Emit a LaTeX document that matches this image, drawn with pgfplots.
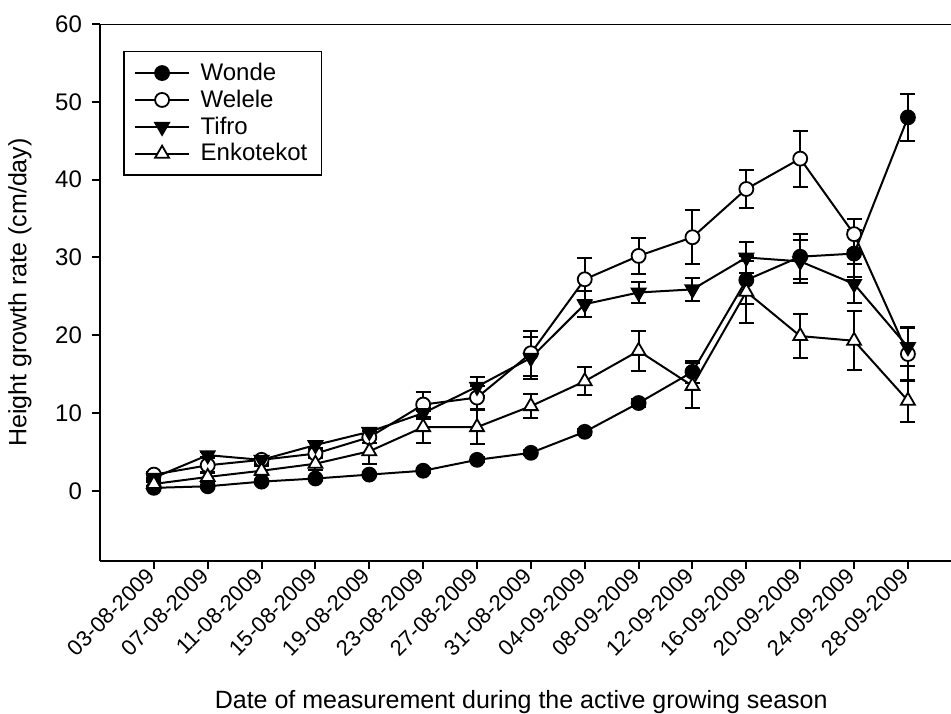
\documentclass[border=0pt]{standalone}
\usepackage{fontspec}
\setmainfont{Liberation Sans}
\usepackage{pgfplots}
\usepackage{pgfplotstable}
\pgfplotsset{compat=1.18}

% x = measurement index, y = growth rate, e = error
\pgfplotstableread{
x y e
0 0.4 0.2
1 0.6 0.2
2 1.2 0.2
3 1.6 0.2
4 2.1 0.2
5 2.6 0.3
6 4.0 0.3
7 4.9 0.3
8 7.6 0.4
9 11.3 0.5
10 15.3 1.4
11 27.1 3.1
12 30.1 2.9
13 30.5 3.0
14 48.0 3.0
}\wonde

\pgfplotstableread{
x y e
0 2.1 0.4
1 3.3 1.0
2 4.0 0.5
3 4.8 0.6
4 6.9 0.8
5 11.1 1.6
6 12.0 1.5
7 17.7 2.9
8 27.2 2.7
9 30.2 2.3
10 32.6 3.5
11 38.8 2.5
12 42.7 3.6
13 33.0 2.0
14 17.6 3.5
}\welele

\pgfplotstableread{
x y e
0 1.7 0.3
1 4.6 0.4
2 4.0 0.4
3 5.9 0.4
4 7.6 0.5
5 10.0 0.7
6 13.4 1.2
7 17.1 2.7
8 24.0 1.7
9 25.5 1.3
10 25.9 1.5
11 30.0 2.0
12 29.5 2.8
13 26.6 2.5
14 18.5 2.4
}\tifro

\pgfplotstableread{
x y e
0 0.9 0.3
1 1.8 0.6
2 2.6 0.6
3 3.5 0.8
4 5.1 1.6
5 8.2 2.1
6 8.2 2.2
7 10.9 1.5
8 14.1 1.8
9 18.0 2.6
10 13.5 2.9
11 25.6 4.0
12 19.9 2.8
13 19.3 3.8
14 11.6 2.7
}\enkotekot

\begin{document}
\begin{tikzpicture}
\useasboundingbox (-50pt,-76pt) rectangle (425.5pt,280.5pt);
\begin{axis}[
    at={(0,0)}, anchor=south west,
    width=425.5pt, height=268.5pt,
    scale only axis,
    axis x line*=bottom, axis y line*=left,
    axis line style={line width=1pt},
    xmin=-1, xmax=14.8,
    ymin=-9, ymax=60,
    ytick={0,10,...,60},
    xtick={0,...,14},
    xticklabels={03-08-2009,07-08-2009,11-08-2009,15-08-2009,19-08-2009,
        23-08-2009,27-08-2009,31-08-2009,04-09-2009,08-09-2009,12-09-2009,
        16-09-2009,20-09-2009,24-09-2009,28-09-2009},
    tick align=outside,
    major tick length=4pt,
    tick style={line width=1pt, black},
    /pgf/number format/assume math mode=true,
    xticklabel style={font=\fontsize{11}{13}\selectfont, rotate=45, anchor=east, inner sep=2pt},
    yticklabel style={font=\fontsize{12}{14}\selectfont, xshift=-1.5pt},
    xlabel={Date of measurement during the active growing season},
    ylabel={Height growth rate (cm/day)},
    label style={font=\fontsize{12.5}{14}\selectfont},
    xlabel style={at={(axis description cs:0.495,-0.274)}, anchor=base},
    ylabel style={at={(axis description cs:-0.072,0.5)}, anchor=south},
    legend style={at={(axis description cs:0.027,0.950)}, anchor=north west,
        draw=black, line width=0.8pt, font=\fontsize{12}{13}\selectfont,
        inner xsep=5pt, inner ysep=3.6pt, row sep=-0.75pt},
    legend cell align=left,
    legend image code/.code={\draw[mark repeat=2, mark phase=2]
        plot coordinates {(0cm,0cm) (0.48cm,0cm) (0.96cm,0cm)};
        \path (1.07cm,0cm);},
    every axis plot/.append style={black, line width=1pt},
    error bars/y dir=both, error bars/y explicit,
    error bars/error mark=-,
    error bars/error bar style={line width=1pt},
    error bars/error mark options={rotate=90, line width=1pt, mark size=3.75pt, black},
]
\addplot[mark=*, mark size=3.5pt, mark options={fill=black, line width=0.9pt}]
    table[x=x, y=y, y error=e] {\wonde};
\addplot[mark=*, mark size=3.5pt, mark options={fill=white, line width=0.9pt}]
    table[x=x, y=y, y error=e] {\welele};
\addplot[mark=triangle*, mark size=4pt, mark options={fill=black, rotate=180, line width=0.9pt}]
    table[x=x, y=y, y error=e] {\tifro};
\addplot[mark=triangle*, mark size=4pt, mark options={fill=white, line width=0.9pt}]
    table[x=x, y=y, y error=e] {\enkotekot};
\legend{Wonde, Welele, Tifro, Enkotekot\hspace{3.5pt}}
\draw[line width=1pt] (rel axis cs:0,1) -- (rel axis cs:1,1);
\end{axis}
\end{tikzpicture}
\end{document}
